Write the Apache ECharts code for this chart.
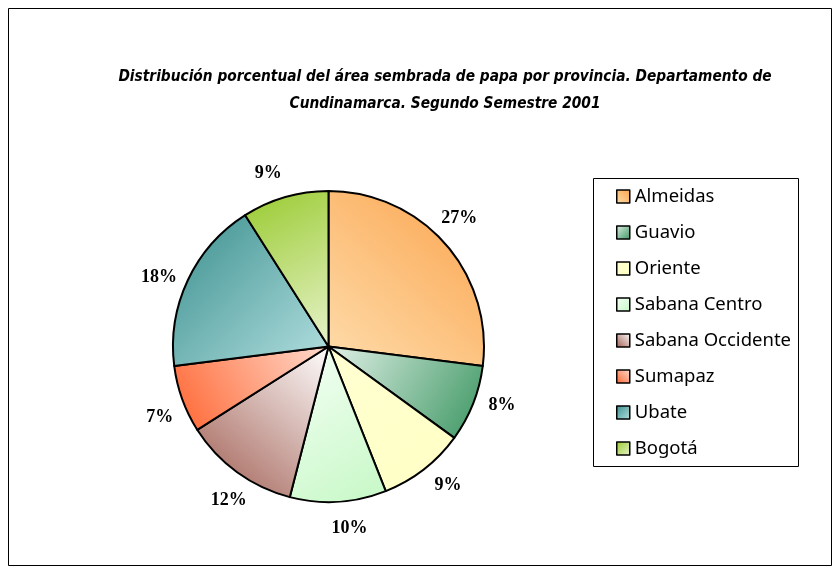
<!DOCTYPE html>
<html>
<head>
<meta charset="utf-8">
<script src="https://cdn.jsdelivr.net/npm/echarts@6/dist/echarts.min.js"></script>
<style>
    html, body { margin: 0; padding: 0; background: #fff; }
    #main { width: 840px; height: 574px; }
</style>
</head>
<body>
<div id="main"></div>
<script>
    // datos
    var provincias = ['Almeidas', 'Guavio', 'Oriente', 'Sabana Centro', 'Sabana Occidente', 'Sumapaz', 'Ubate', 'Bogotá'];
    var porcentajes = [27, 8, 9, 10, 12, 7, 18, 9];
    // degradados [x0, y0, x1, y1, color inicio, color fin]
    var degradados = [
        [0, 1, 1, 0, '#FEDDAC', '#FBA34C'],
        [0, 0, 1, 1, '#E2F1E8', '#3A9560'],
        [0, 0, 1, 1, '#FFFFD2', '#FFFFC4'],
        [0, 0, 1, 1, '#F6FFF6', '#C6F8C6'],
        [1, 0, 0, 1, '#FFFFFF', '#9E5A4E'],
        [1, 0, 0, 1, '#FFDCCE', '#FF6430'],
        [0, 0, 1, 1, '#3A8E8E', '#B4E0E0'],
        [0, 0, 1, 1, '#98CA2E', '#E8F3CC']
    ];

    var myChart = echarts.init(document.getElementById('main'));

    var datos = provincias.map(function (p, i) {
        var g = degradados[i];
        return {
            name: p,
            value: porcentajes[i],
            itemStyle: {
                color: new echarts.graphic.LinearGradient(g[0], g[1], g[2], g[3], [
                    { offset: 0, color: g[4] },
                    { offset: 1, color: g[5] }
                ])
            }
        };
    });

    // anillo invisible solo para colocar las etiquetas fuera del pastel
    var etiquetas = provincias.map(function (p, i) {
        return { name: p, value: porcentajes[i] };
    });

    option = {
        backgroundColor: '#fff',
        title: {
            text: 'Distribución porcentual del área sembrada de papa por provincia. Departamento de\nCundinamarca. Segundo Semestre 2001',
            left: 440,
            top: 59,
            textAlign: 'center',
            textStyle: {
                fontFamily: 'DejaVu Sans Condensed',
                fontStyle: 'italic',
                fontWeight: 'bold',
                fontSize: 15.3,
                lineHeight: 27,
                color: '#000'
            }
        },
        graphic: [
            {
                type: 'rect',
                shape: { x: 8.5, y: 8.5, width: 823, height: 557 },
                style: { fill: 'none', stroke: '#000', lineWidth: 1 },
                silent: true
            },
            {
                type: 'rect',
                shape: { x: 593.5, y: 178.5, width: 205, height: 288 },
                style: { fill: '#fff', stroke: '#000', lineWidth: 1 },
                silent: true,
                z: -1
            }
        ],
        legend: {
            orient: 'vertical',
            left: 611,
            top: 182,
            itemWidth: 13,
            itemHeight: 13,
            itemGap: 17,
            icon: 'rect',
            itemStyle: { borderColor: '#000', borderWidth: 1.5 },
            textStyle: {
                fontFamily: 'Noto Sans',
                fontSize: 18.5,
                color: '#000'
            },
            data: provincias
        },
        series: [
            {
                name: 'Area',
                type: 'pie',
                center: [328.5, 346.5],
                radius: 155.5,
                startAngle: 90,
                clockwise: true,
                itemStyle: { borderColor: '#000', borderWidth: 2 },
                label: { show: false },
                labelLine: { show: false },
                emphasis: { disabled: true },
                animation: false,
                data: datos
            },
            {
                name: 'Etiquetas',
                type: 'pie',
                center: [328.5, 346.5],
                radius: [165, 195],
                startAngle: 93,
                clockwise: true,
                silent: true,
                itemStyle: { color: 'rgba(0,0,0,0)', borderWidth: 0 },
                label: {
                    show: true,
                    position: 'inside',
                    formatter: '{d}%',
                    fontFamily: 'Liberation Serif',
                    fontWeight: 'bold',
                    fontSize: 18,
                    color: '#000'
                },
                labelLine: { show: false },
                emphasis: { disabled: true },
                animation: false,
                data: etiquetas
            }
        ]
    };
    myChart.setOption(option);
</script>
</body>
</html>
